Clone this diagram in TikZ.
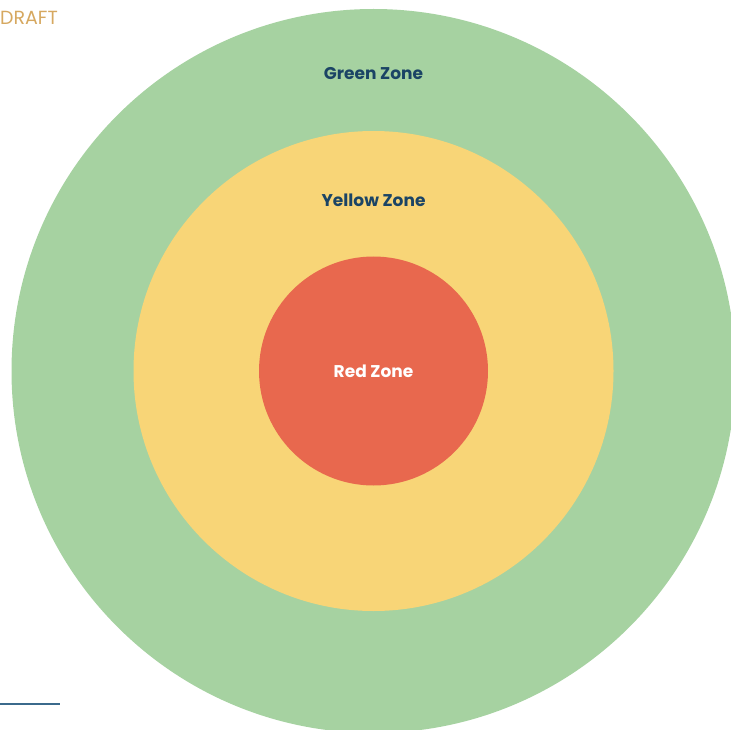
\documentclass[tikz,border=0pt]{standalone}
\usepackage{fontspec}
\setmainfont{Poppins}
\usepackage{tikz}
\usetikzlibrary{positioning}

\definecolor{zonegreen}{RGB}{166,210,161}
\definecolor{zoneyellow}{RGB}{248,213,119}
\definecolor{zonered}{RGB}{232,104,78}
\definecolor{zonetext}{RGB}{27,68,101}
\definecolor{drafttan}{RGB}{214,168,96}
\definecolor{ruleblue}{RGB}{59,106,140}

\begin{document}
\begin{tikzpicture}[x=1pt,y=-1pt,
  zone/.style={circle,inner sep=0pt,draw=none},
  zone label/.style={font=\bfseries\fontsize{17}{19}\selectfont,text=zonetext,inner sep=1pt}]

  \useasboundingbox (0,0) rectangle (731,730);
  \clip (0,0) rectangle (731,730);

  % the three zones
  \node[zone,fill=zonegreen,minimum size=724pt] (green) at (373.5,371) {};
  \node[zone,fill=zoneyellow,minimum size=480pt] (yellow) at (green.center) {};
  \node[zone,fill=zonered,minimum size=229pt] (red) at (green.center) {};

  % labels
  \node[zone label] (greenlabel) at ([yshift=-65pt]green.north) {Green Zone};
  \node[zone label] (yellowlabel) at ([yshift=-69pt]yellow.north) {Yellow Zone};
  \node[zone label,text=white] (redlabel) at (red.center) {Red Zone};

  % page marks
  \node[anchor=west,inner sep=0pt,text=drafttan,font=\fontsize{19}{21}\selectfont] (draft) at (0,18) {DRAFT};
  \coordinate (rulestart) at (0,703.5);
  \coordinate (ruleend) at (60,703.5);
  \draw[ruleblue,line width=2pt] (rulestart) -- (ruleend);
\end{tikzpicture}
\end{document}
